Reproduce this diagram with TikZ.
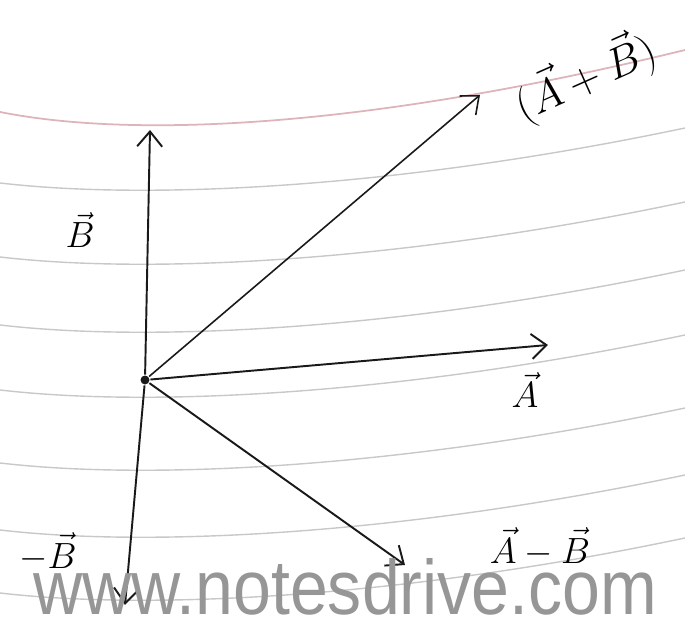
\documentclass[tikz,border=0pt]{standalone}
\usepackage{amsmath,amssymb}
\usepackage{fontspec}
\newfontfamily\markfont{Liberation Sans}
\usepackage{tikz}
\usetikzlibrary{arrows.meta}
\definecolor{penblack}{RGB}{25,25,25}
\definecolor{ruleline}{RGB}{200,200,200}
\definecolor{marginpink}{RGB}{220,180,185}
\definecolor{markgray}{RGB}{150,150,150}

\begin{document}
\begin{tikzpicture}[line width=1.1pt, every node/.style={font=\fontsize{22}{26}\selectfont},
    vec/.style={-{Straight Barb[length=3mm,width=5mm]}, penblack}]
  \useasboundingbox (0,0) rectangle (13.7,12.54);
  % ruled paper
  \foreach \y in {8.88,7.40,6.04,4.74,3.28,1.94,0.68}
    \draw[ruleline, line width=0.8pt] (0,\y) .. controls (3,\y-0.35) and (8,\y-0.1) .. (13.7,\y+1.1);
  \draw[marginpink, line width=1pt] (0,10.3) .. controls (2.5,9.8) and (7,9.9) .. (13.7,11.54);
  % vectors
  \node[fill=penblack, circle, inner sep=1.8pt] (o) at (2.9,4.94) {};
  \coordinate (b) at (3.0,9.94);
  \coordinate (apb) at (9.6,10.64);
  \coordinate (a) at (10.96,5.64);
  \coordinate (amb) at (8.1,1.24);
  \coordinate (nb) at (2.5,0.44);
  \draw[vec] (o) -- (b);
  \draw[vec, line width=0.9pt] (o) -- (apb);
  \draw[vec] (o) -- (a);
  \draw[vec] (o) -- (amb);
  \draw[vec] (o) -- (nb);
  \node (lb) at (1.6,7.94) {$\vec{B}$};
  \node[rotate=24, font=\fontsize{26}{30}\selectfont] (lapb) at (11.7,11.0) {$(\vec{A}+\vec{B})$};
  \node (la) at (10.5,4.74) {$\vec{A}$};
  \node (lamb) at (10.8,1.6) {$\vec{A}-\vec{B}$};
  \node (lnb) at (0.96,1.5) {$-\vec{B}$};
  \node[text=markgray, font=\markfont\fontsize{44}{48}\selectfont, xscale=0.88, inner sep=0pt] (wm) at (6.9,0.8) {www.notesdrive.com};
\end{tikzpicture}
\end{document}
